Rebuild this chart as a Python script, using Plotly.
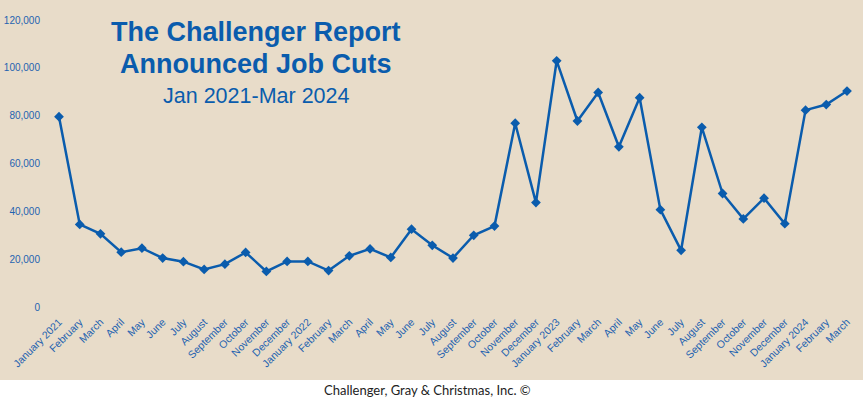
import plotly.graph_objects as go

months = ["January 2021", "February", "March", "April", "May", "June", "July", "August",
          "September", "October", "November", "December",
          "January 2022", "February", "March", "April", "May", "June", "July", "August",
          "September", "October", "November", "December",
          "January 2023", "February", "March", "April", "May", "June", "July", "August",
          "September", "October", "November", "December",
          "January 2024", "February", "March"]
job_cuts = [79552, 34531, 30603, 22913, 24586, 20476, 18942, 15723, 17895, 22822, 14875, 19052,
            19064, 15245, 21387, 24286, 20712, 32517, 25810, 20485, 29989, 33843, 76835, 43651,
            102943, 77770, 89703, 66995, 87500, 40709, 23697, 75151, 47457, 36836, 45510, 34817,
            82307, 84638, 90309]
y_ticks = [0, 20000, 40000, 60000, 80000, 100000, 120000]
y_tick_text = ["0", "20,000", "40,000", "60,000", "80,000", "100,000", "120,000"]

BLUE = "#0A5CAD"
BEIGE = "#E8DCC9"
W, H = 863, 399
L, R, T, B = 50, 8, 20, 92
pw, ph = W - L - R, H - T - B

x_idx = list(range(len(months)))

fig = go.Figure()
fig.add_trace(go.Scatter(
    x=x_idx, y=job_cuts, mode="lines+markers",
    line=dict(color=BLUE, width=2.5),
    marker=dict(symbol="diamond", size=7.5, color=BLUE),
    hoverinfo="skip", showlegend=False))

def py(pix):
    return (H - B - pix) / ph

def px(pix):
    return (pix - L) / pw

fig.add_shape(type="rect", xref="paper", yref="paper",
              x0=px(-5), x1=px(W + 5), y0=py(380), y1=py(-5),
              fillcolor=BEIGE, line=dict(width=0), layer="below")

unit = (847 - 59) / 38
xmin = -(59 - L) / unit
xmax = 38 + (L + pw - 847) / unit

fig.update_layout(
    width=W, height=H,
    margin=dict(l=L, r=R, t=T, b=B, autoexpand=False),
    paper_bgcolor="white", plot_bgcolor=BEIGE,
    font=dict(family="Liberation Sans, Arial, sans-serif", color=BLUE),
    xaxis=dict(range=[xmin, xmax], tickmode="array", tickvals=x_idx, ticktext=months,
               tickangle=-45, showgrid=False, zeroline=False, showline=False, automargin=False,
               ticks="", ticklabelstandoff=6, tickfont=dict(size=10.5, color="#1F63B0")),
    yaxis=dict(range=[0, 120000], tickmode="array", tickvals=y_ticks, ticktext=y_tick_text,
               showgrid=False, zeroline=False, showline=False, ticks="", automargin=False,
               ticklabelstandoff=9, tickfont=dict(size=10, color="#1F63B0")),
)

fig.add_annotation(text="<b>The Challenger Report</b>", xref="paper", yref="paper",
                   x=px(256), y=py(32), xanchor="center", yanchor="middle",
                   showarrow=False, font=dict(size=27, color=BLUE))
fig.add_annotation(text="<b>Announced Job Cuts</b>", xref="paper", yref="paper",
                   x=px(256), y=py(64), xanchor="center", yanchor="middle",
                   showarrow=False, font=dict(size=27, color=BLUE))
fig.add_annotation(text="Jan 2021-Mar 2024", xref="paper", yref="paper",
                   x=px(256), y=py(96), xanchor="center", yanchor="middle",
                   showarrow=False, font=dict(size=21.5, color=BLUE))
fig.add_annotation(text="Challenger, Gray & Christmas, Inc. ©", xref="paper", yref="paper",
                   x=px(427), y=py(390), xanchor="center", yanchor="middle",
                   showarrow=False, font=dict(size=13, color="#222222", family="Lato, sans-serif"))

fig.write_html("out.html", config={"displayModeBar": False},
               post_script="document.body.style.margin='0';document.body.style.overflow='hidden';")
